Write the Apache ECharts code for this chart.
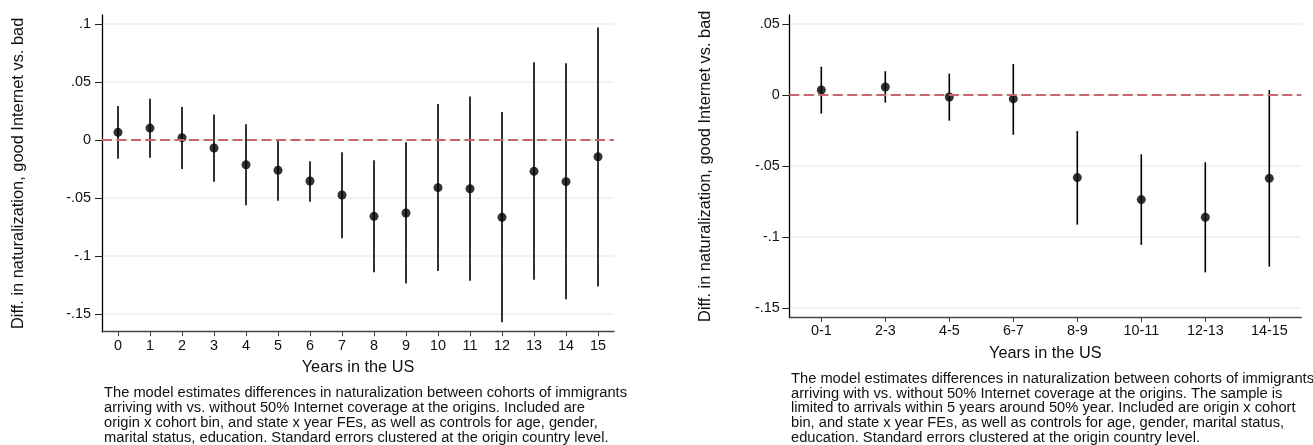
<!DOCTYPE html>
<html>
<head>
<meta charset="utf-8">
<script src="https://cdn.jsdelivr.net/npm/echarts@6/dist/echarts.min.js"></script>
<style>
  html, body { margin: 0; padding: 0; background: #fff; }
  #chart { width: 1313px; height: 445px; }
</style>
</head>
<body>
<div id="chart"></div>
<script>
// Left panel: single years since arrival
const leftYears = ['0', '1', '2', '3', '4', '5', '6', '7', '8', '9', '10', '11', '12', '13', '14', '15'];
const leftEst = [0.0066, 0.0103, 0.0020, -0.0069, -0.0213, -0.0261, -0.0353, -0.0474, -0.0658, -0.0629, -0.0411, -0.0420, -0.0667, -0.0270, -0.0359, -0.0144];
const leftLo  = [-0.0161, -0.0152, -0.0250, -0.0359, -0.0563, -0.0523, -0.0532, -0.0848, -0.1140, -0.1237, -0.1130, -0.1213, -0.1572, -0.1204, -0.1373, -0.1263];
const leftHi  = [0.0293, 0.0356, 0.0284, 0.0221, 0.0135, 0.0000, -0.0184, -0.0106, -0.0175, -0.0020, 0.0310, 0.0376, 0.0241, 0.0670, 0.0661, 0.0971];
const leftYTicks = [-0.15, -0.1, -0.05, 0, 0.05, 0.1];

// Right panel: two-year bins, narrow arrival window
const rightBins = ['0-1', '2-3', '4-5', '6-7', '8-9', '10-11', '12-13', '14-15'];
const rightEst = [0.0035, 0.0056, -0.0014, -0.0028, -0.0582, -0.0737, -0.0861, -0.0587];
const rightLo  = [-0.0131, -0.0054, -0.0181, -0.0280, -0.0913, -0.1056, -0.1249, -0.1209];
const rightHi  = [0.0199, 0.0167, 0.0150, 0.0218, -0.0254, -0.0418, -0.0474, 0.0035];
const rightYTicks = [-0.15, -0.1, -0.05, 0, 0.05];

const yTitle = 'Diff. in naturalization, good Internet vs. bad';
const xTitle = 'Years in the US';
const leftNote = [
  'The model estimates differences in naturalization between cohorts of immigrants',
  'arriving with vs. without 50% Internet coverage at the origins. Included are',
  'origin x cohort bin, and state x year FEs, as well as controls for age, gender,',
  'marital status, education. Standard errors clustered at the origin country level.'
];
const rightNote = [
  'The model estimates differences in naturalization between cohorts of immigrants',
  'arriving with vs. without 50% Internet coverage at the origins. The sample is',
  'limited to arrivals within 5 years around 50% year. Included are origin x cohort',
  'bin, and state x year FEs, as well as controls for age, gender, marital status,',
  'education. Standard errors clustered at the origin country level.'
];

const FONT = '"Liberation Sans", Arial, Helvetica, sans-serif';
const GRID_COLOR = '#e8eff0';
const REF_COLOR = '#c8656f';

// Stata-style tick label: drop the leading zero (.05, -.1)
function fmtTick(v) {
  const r = Math.round(v * 1000) / 1000;
  if (r === 0) return '0';
  return String(r).replace(/^(-?)0\./, '$1.');
}

function whiskers(lo, hi) {
  return lo.map((l, i) => [i, l, hi[i]]);
}

function renderWhisker(params, api) {
  const i = api.value(0);
  const a = api.coord([i, api.value(1)]);
  const b = api.coord([i, api.value(2)]);
  return {
    type: 'line',
    shape: { x1: a[0], y1: a[1], x2: b[0], y2: b[1] },
    style: { stroke: '#000', lineWidth: 1.6 }
  };
}

function xAxisFor(gridIndex, cats, nameGap) {
  return {
    type: 'category', gridIndex, data: cats, boundaryGap: true,
    name: xTitle, nameLocation: 'middle', nameGap,
    nameTextStyle: { fontFamily: FONT, fontSize: 16.3, color: '#111' },
    axisLine: { show: true, onZero: false, lineStyle: { color: '#444', width: 1.3 } },
    axisTick: { show: true, alignWithLabel: true, length: 4.5, lineStyle: { color: '#444', width: 1 } },
    axisLabel: { interval: 0, margin: 7, fontFamily: FONT, fontSize: 14.4, color: '#111' },
    splitLine: { show: false }
  };
}

function yAxisFor(gridIndex, min, max, ticks, margin) {
  return {
    type: 'value', gridIndex, min, max,
    name: yTitle, nameLocation: 'middle', nameGap: 76, nameRotate: 90,
    nameTextStyle: { fontFamily: FONT, fontSize: 16.4, color: '#111' },
    axisLine: { show: true, onZero: false, lineStyle: { color: '#000', width: 1.3 } },
    axisTick: { show: true, length: 7, customValues: ticks, lineStyle: { color: '#222', width: 1 } },
    axisLabel: { customValues: ticks, margin, fontFamily: FONT, fontSize: 14.4, color: '#111', formatter: fmtTick },
    splitLine: { show: true, lineStyle: { color: GRID_COLOR, width: 1.5 } }
  };
}

function panelSeries(idx, est, lo, hi) {
  return [
    {
      type: 'line', xAxisIndex: idx, yAxisIndex: idx, data: [], z: 1, silent: true,
      markLine: {
        silent: true, symbol: 'none', label: { show: false },
        lineStyle: { color: REF_COLOR, type: [10, 4.5], width: 1.8 },
        data: [{ yAxis: 0 }]
      }
    },
    {
      type: 'custom', xAxisIndex: idx, yAxisIndex: idx, z: 3, silent: true,
      renderItem: renderWhisker, encode: { x: 0, y: [1, 2] },
      data: whiskers(lo, hi)
    },
    {
      type: 'scatter', xAxisIndex: idx, yAxisIndex: idx, z: 4, silent: true,
      symbol: 'circle', symbolSize: 9, itemStyle: { color: '#000' },
      data: est
    }
  ];
}

const chart = echarts.init(document.getElementById('chart'), null, { renderer: 'canvas' });
chart.setOption({
  backgroundColor: '#fff',
  animation: false,
  title: [
    { text: leftNote.join('\n'), left: 104, top: 385.5, padding: 0,
      textStyle: { fontFamily: FONT, fontSize: 14.7, lineHeight: 15, fontWeight: 'normal', color: '#111' } },
    { text: rightNote.join('\n'), left: 791, top: 371.5, padding: 0,
      textStyle: { fontFamily: FONT, fontSize: 14.7, lineHeight: 14.7, fontWeight: 'normal', color: '#111' } }
  ],
  grid: [
    { left: 102, top: 15, width: 512, height: 316.7 },
    { left: 789.3, top: 15, width: 512, height: 302.5 }
  ],
  xAxis: [xAxisFor(0, leftYears, 28), xAxisFor(1, rightBins, 28)],
  yAxis: [
    yAxisFor(0, -0.1653, 0.1078, leftYTicks, 11),
    yAxisFor(1, -0.1567, 0.0563, rightYTicks, 9.5)
  ],
  series: [
    ...panelSeries(0, leftEst, leftLo, leftHi),
    ...panelSeries(1, rightEst, rightLo, rightHi)
  ]
});
</script>
</body>
</html>
